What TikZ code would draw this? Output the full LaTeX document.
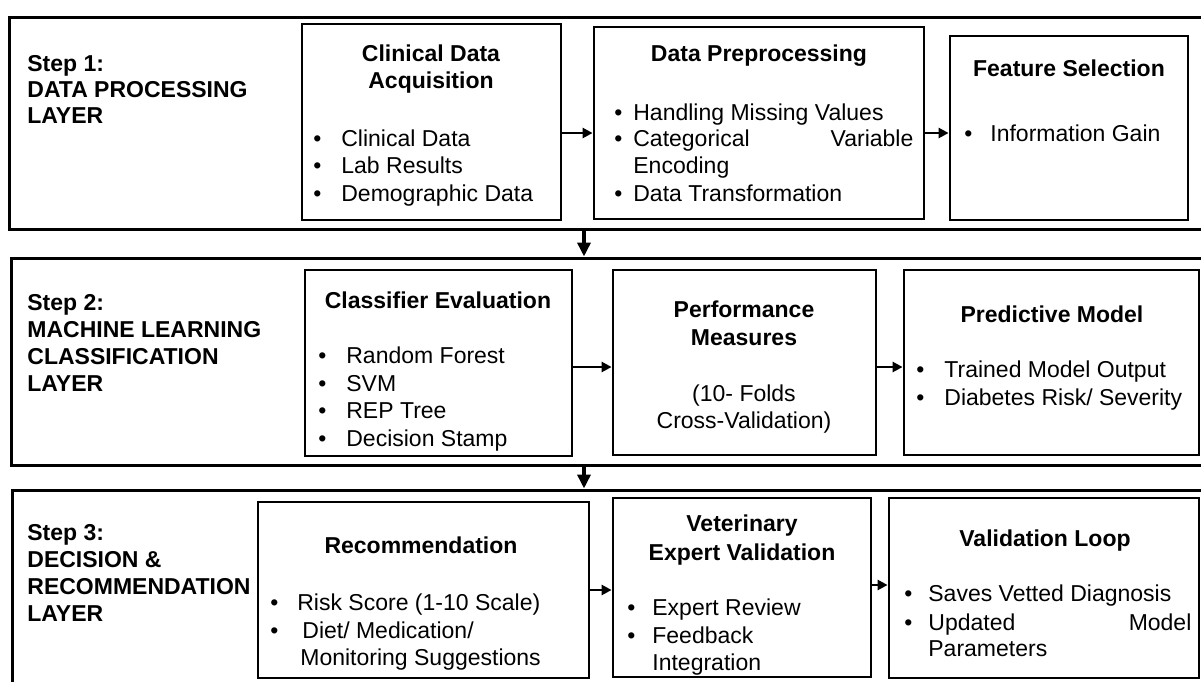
\documentclass[tikz,border=0pt]{standalone}
\usepackage{fontspec}
\setmainfont{Liberation Sans}
\usetikzlibrary{fit,arrows.meta}
\newcommand\myitem[5]{\node[txt,anchor=base west] (#1) at (#2,#3) {\makebox[\dimexpr #4pt/2\relax][l]{•}#5};}
\newcommand\myline[4]{\node[txt,anchor=base west] (#1) at (#2,#3) {#4};}
\newcommand\mybold[4]{\node[ttl,anchor=base west] (#1) at (#2,#3) {#4};}
\newcommand\mycen[4]{\node[ttl,anchor=base] (#1) at (#2,#3) {#4};}
\newcommand\mycenr[4]{\node[txt,anchor=base] (#1) at (#2,#3) {#4};}
\begin{document}
\begin{tikzpicture}[x=0.5pt,y=-0.5pt,
  layer/.style={draw, line width=1.5pt, inner sep=0pt},
  box/.style={draw, line width=1.4pt, inner sep=0pt},
  txt/.style={inner sep=0pt, font=\fontsize{11.5}{13.8}\selectfont},
  ttl/.style={inner sep=0pt, font=\fontsize{11.5}{13.8}\selectfont\bfseries},
  harr/.style={line width=1.4pt, -{Triangle[length=5pt,width=5pt]}},
  darr/.style={line width=2pt, -{Triangle[length=7pt,width=6.5pt]}}]
\useasboundingbox (0,0) rectangle (1201,681);
% layers
\node[layer, fit={(9,17) (1204,229)}] (L1) {};
\node[layer, fit={(11,258) (1204,465)}] (L2) {};
\node[layer, fit={(12,490) (1204,700)}] (L3) {};
% boxes
\node[box, fit={(302,24) (561,220)}] (cda) {};
\node[box, fit={(594,27) (924,219)}] (dp) {};
\node[box, fit={(950,36) (1188,220)}] (fs) {};
\node[box, fit={(305,270) (572,456)}] (ce) {};
\node[box, fit={(613,270) (876,455)}] (pm) {};
\node[box, fit={(904,270) (1199,455)}] (pred) {};
\node[box, fit={(258,502) (589,678)}] (rec) {};
\node[box, fit={(613,498) (871,677)}] (vet) {};
\node[box, fit={(889,498) (1199,678)}] (loop) {};
% arrow levels
\coordinate (ya) at (0,133);
\coordinate (yb) at (0,367);
\coordinate (yc) at (0,590);
\coordinate (yd) at (0,585);
\coordinate (xd) at (584,0);
\draw[harr] (cda.east |- ya) -- (dp.west |- ya);
\draw[harr] (dp.east |- ya) -- (fs.west |- ya);
\draw[harr] (ce.east |- yb) -- (pm.west |- yb);
\draw[harr] (pm.east |- yb) -- (pred.west |- yb);
\draw[harr] (rec.east |- yc) -- (vet.west |- yc);
\draw[harr] (vet.east |- yd) -- (loop.west |- yd);
\draw[darr] (L1.south -| xd) -- (L2.north -| xd);
\draw[darr] (L2.south -| xd) -- (L3.north -| xd);
% step labels
\mybold{s1a}{27}{71}{Step 1:}
\mybold{s1b}{27}{97}{DATA PROCESSING}
\mybold{s1c}{27}{123}{LAYER}
\mybold{s2a}{27}{310}{Step 2:}
\mybold{s2b}{27}{337}{MACHINE LEARNING}
\mybold{s2c}{27}{364}{CLASSIFICATION}
\mybold{s2d}{27}{391}{LAYER}
\mybold{s3a}{27}{540}{Step 3:}
\mybold{s3b}{27}{567}{DECISION \&}
\mybold{s3c}{27}{594}{RECOMMENDATION}
\mybold{s3d}{27}{621}{LAYER}
% layer 1 texts
\mycen{cdat1}{431}{61}{Clinical Data}
\mycen{cdat2}{431}{88}{Acquisition}
\myitem{cdab1}{313}{146}{28}{Clinical Data}
\myitem{cdab2}{313}{173}{28}{Lab Results}
\myitem{cdab3}{313}{201}{28}{Demographic Data}
\mycen{dpt}{759}{61}{Data Preprocessing}
\myitem{dpb1}{614}{120}{19}{Handling Missing Values}
\myitem{dpb2}{614}{146}{19}{\makebox[140pt][s]{Categorical Variable}}
\myline{dpb3}{633}{173}{Encoding}
\myitem{dpb4}{614}{201}{19}{Data Transformation}
\mycen{fst}{1069}{76}{Feature Selection}
\myitem{fsb1}{964}{141}{26}{Information Gain}
% layer 2 texts
\mycen{cet}{438}{308}{Classifier Evaluation}
\myitem{ceb1}{318}{363}{28}{Random Forest}
\myitem{ceb2}{318}{391}{28}{SVM}
\myitem{ceb3}{318}{418}{28}{REP Tree}
\myitem{ceb4}{318}{446}{28}{Decision Stamp}
\mycen{pmt1}{744}{317}{Performance}
\mycen{pmt2}{744}{345}{Measures}
\mycenr{pmr1}{744}{401}{(10- Folds}
\mycenr{pmr2}{744}{428}{Cross-Validation)}
\mycen{predt}{1052}{322}{Predictive Model}
\myitem{predb1}{916}{377}{28}{Trained Model Output}
\myitem{predb2}{916}{405}{28}{Diabetes Risk/ Severity}
% layer 3 texts
\mycen{rect}{421}{553}{Recommendation}
\myitem{recb1}{270}{610}{27}{Risk Score (1-10 Scale)}
\myitem{recb2}{270}{638}{32}{Diet/ Medication/}
\myline{recb3}{300}{665}{Monitoring Suggestions}
\mycen{vett1}{742}{531}{Veterinary}
\mycen{vett2}{742}{560}{Expert Validation}
\myitem{vetb1}{627}{615}{25}{Expert Review}
\myitem{vetb2}{627}{643}{25}{Feedback}
\myline{vetb3}{652}{670}{Integration}
\mycen{loopt}{1045}{546}{Validation Loop}
\myitem{loopb1}{904}{601}{24}{Saves Vetted Diagnosis}
\myitem{loopb2}{904}{630}{24}{\makebox[131.5pt][s]{Updated Model}}
\myline{loopb3}{928}{656}{Parameters}
\end{tikzpicture}
\end{document}
